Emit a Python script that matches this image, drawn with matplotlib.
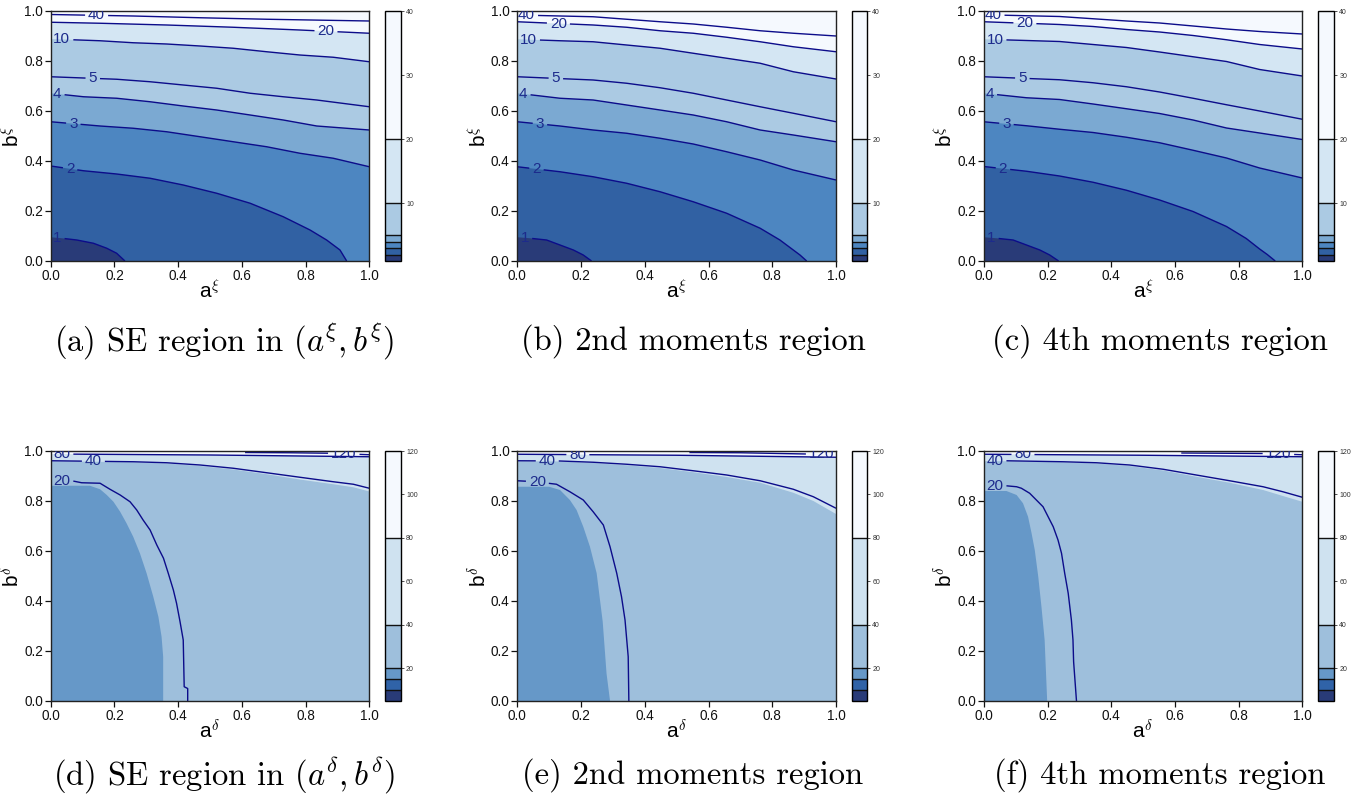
import numpy as np
import matplotlib
matplotlib.use('Agg')
import matplotlib.pyplot as plt
from matplotlib.contour import ContourSet
from matplotlib.colors import ListedColormap, BoundaryNorm
from matplotlib.cm import ScalarMappable

plt.rcParams['font.family'] = ['Liberation Sans', 'DejaVu Sans']
plt.rcParams['mathtext.fontset'] = 'cm'

# ---------------- data: contour curves (a values, b values) ----------------
# Panel (a): SE region in (a^xi, b^xi)
pa_1 = ([0, 0.035, 0.082, 0.134, 0.176, 0.207, 0.233], [0.095, 0.091, 0.084, 0.071, 0.051, 0.031, 0.0])
pa_2 = ([0, 0.103, 0.207, 0.312, 0.416, 0.521, 0.626, 0.73, 0.814, 0.866, 0.908, 0.929],
        [0.38, 0.361, 0.348, 0.331, 0.304, 0.271, 0.231, 0.177, 0.124, 0.084, 0.044, 0.0])
pa_3 = ([0, 0.155, 0.259, 0.364, 0.469, 0.573, 0.678, 0.782, 0.887, 1.0],
        [0.557, 0.54, 0.531, 0.517, 0.497, 0.477, 0.457, 0.431, 0.411, 0.377])
pa_4 = ([0, 0.103, 0.207, 0.312, 0.416, 0.521, 0.626, 0.73, 0.835, 1.0],
        [0.671, 0.657, 0.651, 0.637, 0.62, 0.604, 0.584, 0.564, 0.54, 0.524])
pa_5 = ([0, 0.207, 0.312, 0.416, 0.521, 0.626, 0.73, 0.835, 1.0],
        [0.737, 0.727, 0.717, 0.704, 0.691, 0.671, 0.657, 0.644, 0.617])
pa_10 = ([0, 0.155, 0.259, 0.364, 0.469, 0.573, 0.678, 0.782, 0.887, 1.0],
         [0.888, 0.881, 0.873, 0.868, 0.86, 0.851, 0.837, 0.824, 0.815, 0.797])
pa_20 = ([0, 0.155, 0.364, 0.573, 0.782, 1.0], [0.955, 0.951, 0.944, 0.935, 0.924, 0.911])
pa_40 = ([0, 0.259, 0.469, 0.678, 1.0], [0.986, 0.98, 0.973, 0.967, 0.96])

# Panel (b): 2nd moments region (xi)
pb_1 = ([0, 0.04, 0.092, 0.134, 0.176, 0.207, 0.233], [0.095, 0.091, 0.084, 0.064, 0.044, 0.024, 0.0])
pb_2 = ([0, 0.134, 0.238, 0.343, 0.448, 0.552, 0.657, 0.762, 0.824, 0.866, 0.887, 0.908],
        [0.377, 0.357, 0.337, 0.311, 0.277, 0.237, 0.191, 0.131, 0.084, 0.044, 0.024, 0.0])
pb_3 = ([0, 0.134, 0.238, 0.343, 0.448, 0.552, 0.657, 0.762, 0.866, 1.0],
        [0.557, 0.54, 0.524, 0.511, 0.491, 0.468, 0.437, 0.404, 0.364, 0.324])
pb_4 = ([0, 0.134, 0.238, 0.343, 0.448, 0.552, 0.657, 0.762, 0.866, 1.0],
        [0.671, 0.651, 0.644, 0.624, 0.604, 0.584, 0.557, 0.524, 0.504, 0.477])
pb_5 = ([0, 0.238, 0.343, 0.448, 0.552, 0.657, 0.762, 0.866, 1.0],
        [0.737, 0.724, 0.711, 0.693, 0.671, 0.644, 0.617, 0.591, 0.557])
pb_10 = ([0, 0.134, 0.238, 0.343, 0.448, 0.552, 0.657, 0.762, 0.866, 1.0],
         [0.887, 0.881, 0.877, 0.864, 0.851, 0.831, 0.811, 0.791, 0.757, 0.728])
pb_20 = ([0, 0.238, 0.343, 0.448, 0.552, 0.657, 0.762, 0.866, 1.0],
         [0.957, 0.944, 0.935, 0.921, 0.911, 0.895, 0.877, 0.857, 0.837])
pb_40 = ([0, 0.238, 0.343, 0.448, 0.552, 0.657, 0.762, 0.866, 1.0],
         [0.984, 0.977, 0.967, 0.957, 0.948, 0.935, 0.921, 0.911, 0.9])

# Panel (c): 4th moments region (xi)
pc_1 = ([0, 0.04, 0.092, 0.134, 0.176, 0.207, 0.235], [0.095, 0.091, 0.084, 0.064, 0.044, 0.024, 0.0])
pc_2 = ([0, 0.134, 0.238, 0.343, 0.448, 0.552, 0.657, 0.762, 0.824, 0.866, 0.89, 0.915],
        [0.378, 0.359, 0.34, 0.315, 0.283, 0.244, 0.198, 0.138, 0.09, 0.048, 0.026, 0.0])
pc_3 = ([0, 0.134, 0.238, 0.343, 0.448, 0.552, 0.657, 0.762, 0.866, 1.0],
        [0.557, 0.541, 0.527, 0.514, 0.495, 0.473, 0.443, 0.412, 0.372, 0.332])
pc_4 = ([0, 0.134, 0.238, 0.343, 0.448, 0.552, 0.657, 0.762, 0.866, 1.0],
        [0.671, 0.653, 0.646, 0.628, 0.609, 0.59, 0.564, 0.532, 0.512, 0.486])
pc_5 = ([0, 0.238, 0.343, 0.448, 0.552, 0.657, 0.762, 0.866, 1.0],
        [0.737, 0.725, 0.713, 0.697, 0.676, 0.651, 0.625, 0.6, 0.567])
pc_10 = ([0, 0.134, 0.238, 0.343, 0.448, 0.552, 0.657, 0.762, 0.866, 1.0],
         [0.887, 0.882, 0.878, 0.866, 0.854, 0.836, 0.817, 0.798, 0.766, 0.74])
pc_20 = ([0, 0.238, 0.343, 0.448, 0.552, 0.657, 0.762, 0.866, 1.0],
         [0.957, 0.946, 0.938, 0.926, 0.916, 0.902, 0.885, 0.866, 0.848])
pc_40 = ([0, 0.238, 0.343, 0.448, 0.552, 0.657, 0.762, 0.866, 1.0],
         [0.985, 0.978, 0.969, 0.96, 0.952, 0.94, 0.928, 0.918, 0.908])

# Panel (d): SE region in (a^delta, b^delta)
pd_20 = ([0, 0.066, 0.097, 0.155, 0.186, 0.218, 0.249, 0.27, 0.29, 0.312, 0.333, 0.354, 0.369,
          0.385, 0.395, 0.406, 0.416, 0.419, 0.43, 0.43],
         [0.879, 0.881, 0.873, 0.871, 0.847, 0.824, 0.797, 0.764, 0.724, 0.684, 0.624, 0.571, 0.511,
          0.444, 0.391, 0.317, 0.244, 0.057, 0.05, 0.0])
pd_f20 = ([0, 0.123, 0.155, 0.176, 0.197, 0.218, 0.238, 0.259, 0.28, 0.301, 0.322, 0.338, 0.348, 0.353, 0.353],
          [0.861, 0.861, 0.847, 0.824, 0.797, 0.757, 0.711, 0.657, 0.591, 0.511, 0.417, 0.337, 0.257, 0.177, 0.0])
pd_40 = ([0, 0.26, 0.364, 0.469, 0.573, 0.678, 0.782, 0.887, 0.95, 1.0],
         [0.961, 0.957, 0.953, 0.944, 0.931, 0.913, 0.895, 0.877, 0.867, 0.851])
pd_f40 = ([0, 0.26, 0.364, 0.469, 0.573, 0.678, 0.782, 0.887, 0.95, 1.0],
          [0.959, 0.955, 0.95, 0.94, 0.926, 0.907, 0.886, 0.867, 0.855, 0.838])
pd_80 = ([0, 0.5, 1.0], [0.988, 0.984, 0.977])
pd_120 = ([0.61, 0.75, 0.88, 1.0], [0.994, 0.993, 0.991, 0.985])

# Panel (e): 2nd moments region (delta)
pe_20 = ([0, 0.03, 0.097, 0.123, 0.165, 0.207, 0.238, 0.27, 0.291, 0.312, 0.327, 0.338, 0.348, 0.35],
         [0.881, 0.879, 0.871, 0.867, 0.837, 0.804, 0.757, 0.704, 0.617, 0.511, 0.417, 0.324, 0.177, 0.0])
pe_f20 = ([0, 0.1, 0.134, 0.165, 0.186, 0.207, 0.228, 0.249, 0.268, 0.28, 0.291],
          [0.857, 0.857, 0.844, 0.804, 0.764, 0.697, 0.617, 0.511, 0.317, 0.11, 0.0])
pe_40 = ([0, 0.134, 0.238, 0.343, 0.448, 0.552, 0.657, 0.762, 0.866, 0.929, 1.0],
         [0.961, 0.96, 0.955, 0.947, 0.937, 0.921, 0.904, 0.881, 0.847, 0.817, 0.771])
pe_f40 = ([0, 0.134, 0.238, 0.343, 0.448, 0.552, 0.657, 0.762, 0.866, 0.929, 1.0],
          [0.959, 0.958, 0.952, 0.943, 0.932, 0.915, 0.896, 0.873, 0.833, 0.8, 0.748])
pe_80 = ([0, 0.5, 1.0], [0.987, 0.983, 0.975])
pe_120 = ([0.54, 0.7, 0.908, 1.0], [0.994, 0.993, 0.988, 0.986])

# Panel (f): 4th moments region (delta)
pf_20 = ([0, 0.069, 0.103, 0.118, 0.144, 0.165, 0.186, 0.202, 0.218, 0.233, 0.244, 0.254, 0.265,
          0.275, 0.28, 0.282, 0.291],
         [0.861, 0.861, 0.857, 0.851, 0.831, 0.804, 0.777, 0.737, 0.697, 0.644, 0.591, 0.511, 0.431,
          0.324, 0.244, 0.157, 0.0])
pf_f20 = ([0, 0.071, 0.103, 0.123, 0.139, 0.15, 0.16, 0.171, 0.181, 0.191, 0.199],
          [0.84, 0.84, 0.824, 0.791, 0.737, 0.671, 0.604, 0.497, 0.377, 0.244, 0.0])
pf_40 = ([0, 0.066, 0.249, 0.354, 0.458, 0.563, 0.667, 0.772, 0.877, 0.939, 1.0],
         [0.961, 0.961, 0.957, 0.953, 0.944, 0.927, 0.904, 0.881, 0.857, 0.837, 0.815])
pf_f40 = ([0, 0.066, 0.249, 0.354, 0.458, 0.563, 0.667, 0.772, 0.877, 0.939, 1.0],
          [0.959, 0.959, 0.955, 0.95, 0.94, 0.922, 0.897, 0.873, 0.844, 0.82, 0.797])
pf_80 = ([0, 0.5, 1.0], [0.987, 0.983, 0.977])
pf_120 = ([0.62, 0.75, 0.877, 1.0], [0.992, 0.991, 0.99, 0.985])

# colour-key levels and tick labels
xi_key_bounds = [1, 2, 3, 4, 5, 10, 20, 40]
xi_key_ticks = [10, 20, 30, 40]
de_key_bounds = [5, 10, 15, 20, 40, 80, 120]
de_key_ticks = [20, 40, 60, 80, 100, 120]
axis_ticks = [0.0, 0.2, 0.4, 0.6, 0.8, 1.0]
captions = [r"(a) SE region in $(a^{\xi}, b^{\xi})$", "(b) 2nd moments region", "(c) 4th moments region",
            r"(d) SE region in $(a^{\delta}, b^{\delta})$", "(e) 2nd moments region", "(f) 4th moments region"]

# ---------------- styles ----------------
NAVY = '#293b78'
DBLUE = '#3161a3'
BLUE = '#4d86c1'
MED = '#7ba9d2'
LIGHT = '#abcae3'
LIGHTER = '#d4e6f3'
WHITE = '#f5f9fe'
D_DBLUE = '#3063a8'
D_MID = '#6698c8'
D_LIGHT = '#9ebfdc'
D_LIGHTER = '#cfe2f0'
LINE_C = '#0c0c8a'
LABEL_C = '#1d2b8c'

xi_key_colors = [NAVY, DBLUE, BLUE, MED, LIGHT, LIGHTER, WHITE]
de_key_colors = [NAVY, D_DBLUE, D_MID, D_LIGHT, D_LIGHTER, WHITE]

W, H = 1361, 802
fig = plt.figure(figsize=(W / 100, H / 100), dpi=100)


def rect(x0, y0, x1, y1):
    return [x0 / W, 1 - y1 / H, (x1 - x0) / W, (y1 - y0) / H]


cols = [(50.7, 369.3, 385.0, 400.5, 224), (517.3, 836.0, 851.7, 866.7, 693), (983.8, 1302.3, 1318.3, 1333.8, 1160)]
rows = [(11.0, 261.0, 341), (451.0, 701.0, 775)]

xi_panels = [
    dict(fills=[(pa_20, LIGHTER), (pa_10, LIGHT), (pa_4, MED), (pa_3, BLUE), (pa_2, DBLUE), (pa_1, NAVY)],
         lines={1: pa_1, 2: pa_2, 3: pa_3, 4: pa_4, 5: pa_5, 10: pa_10, 20: pa_20, 40: pa_40},
         labels={1: (0.021, 0.093), 2: (0.061, 0.37), 3: (0.071, 0.549), 4: (0.021, 0.669),
                 5: (0.132, 0.73), 10: (0.035, 0.887), 20: (0.864, 0.919), 40: (0.144, 0.982)}),
    dict(fills=[(pb_20, LIGHTER), (pb_10, LIGHT), (pb_4, MED), (pb_3, BLUE), (pb_2, DBLUE), (pb_1, NAVY)],
         lines={1: pb_1, 2: pb_2, 3: pb_3, 4: pb_4, 5: pb_5, 10: pb_10, 20: pb_20, 40: pb_40},
         labels={1: (0.024, 0.093), 2: (0.06, 0.367), 3: (0.071, 0.548), 4: (0.019, 0.668),
                 5: (0.121, 0.731), 10: (0.035, 0.886), 20: (0.129, 0.95), 40: (0.029, 0.983)}),
    dict(fills=[(pc_20, LIGHTER), (pc_10, LIGHT), (pc_4, MED), (pc_3, BLUE), (pc_2, DBLUE), (pc_1, NAVY)],
         lines={1: pc_1, 2: pc_2, 3: pc_3, 4: pc_4, 5: pc_5, 10: pc_10, 20: pc_20, 40: pc_40},
         labels={1: (0.024, 0.093), 2: (0.06, 0.368), 3: (0.071, 0.548), 4: (0.019, 0.668),
                 5: (0.121, 0.731), 10: (0.035, 0.886), 20: (0.129, 0.951), 40: (0.029, 0.984)}),
]
de_panels = [
    dict(fills=[(pd_80, D_LIGHTER), (pd_f40, D_LIGHT), (pd_f20, D_MID)],
         lines={20: pd_20, 40: pd_40, 80: pd_80, 120: pd_120},
         labels={20: (0.035, 0.879), 40: (0.134, 0.958), 80: (0.035, 0.988), 120: (0.92, 0.991)}),
    dict(fills=[(pe_80, D_LIGHTER), (pe_f40, D_LIGHT), (pe_f20, D_MID)],
         lines={20: pe_20, 40: pe_40, 80: pe_80, 120: pe_120},
         labels={20: (0.063, 0.875), 40: (0.094, 0.96), 80: (0.19, 0.985), 120: (0.955, 0.987)}),
    dict(fills=[(pf_80, D_LIGHTER), (pf_f40, D_LIGHT), (pf_f20, D_MID)],
         lines={20: pf_20, 40: pf_40, 80: pf_80, 120: pf_120},
         labels={20: (0.035, 0.861), 40: (0.035, 0.961), 80: (0.123, 0.985), 120: (0.925, 0.99)}),
]


def draw_panel(spec, col, row, sym, bounds, kcolors, kticks, caption):
    x0, x1, cx0, cx1, capx = col
    y0, y1, capy = row
    ax = fig.add_axes(rect(x0, y0, x1, y1))
    ax.set_facecolor(WHITE)
    for (ca, cb), c in spec['fills']:
        ax.fill(list(ca) + [ca[-1], 0], list(cb) + [0, 0], facecolor=c, edgecolor='none')
    levels = sorted(spec['lines'])
    allsegs = [[np.column_stack(spec['lines'][l])] for l in levels]
    cs = ContourSet(ax, levels, allsegs, colors=LINE_C, linewidths=1.0)
    ax.set_xlim(0, 1)
    ax.set_ylim(0, 1)
    texts = ax.clabel(cs, manual=[spec['labels'][l] for l in levels], inline=True, inline_spacing=3,
                      fmt='%d', fontsize=11, colors=LABEL_C)
    for t in texts:
        t.set_rotation(0)
    ax.set_xticks(axis_ticks)
    ax.set_yticks(axis_ticks)
    ax.set_xticklabels([f'{v:.1f}' for v in axis_ticks])
    ax.set_yticklabels([f'{v:.1f}' for v in axis_ticks])
    ax.tick_params(direction='out', length=4, width=0.9, labelsize=9.8, pad=1.5, colors='#111111')
    for s in ax.spines.values():
        s.set_linewidth(1.0)
        s.set_color('#222222')
    ax.set_xlabel('a$^{' + sym + '}$', fontsize=15, labelpad=-3)
    ax.set_ylabel('b$^{' + sym + '}$', fontsize=15, labelpad=0)

    cax = fig.add_axes(rect(cx0, y0, cx1, y1))
    cmap = ListedColormap(kcolors)
    norm = BoundaryNorm(bounds, cmap.N)
    cbar = fig.colorbar(ScalarMappable(norm=norm, cmap=cmap), cax=cax, drawedges=True,
                        spacing='proportional', ticks=kticks)
    cbar.minorticks_off()
    cbar.ax.set_yticklabels([str(t) for t in kticks])
    cbar.ax.tick_params(labelsize=5, length=2.5, width=0.6, pad=1.5, colors='#333333')
    cbar.outline.set_linewidth(1.0)
    cbar.dividers.set_linewidth(1.0)
    cbar.dividers.set_color('#111111')

    fig.text(capx / W, 1 - capy / H, caption, ha='center', va='center', fontsize=23.5, family='cmr10')


for i in range(3):
    draw_panel(xi_panels[i], cols[i], rows[0], r'\xi', xi_key_bounds, xi_key_colors, xi_key_ticks, captions[i])
for i in range(3):
    draw_panel(de_panels[i], cols[i], rows[1], r'\delta', de_key_bounds, de_key_colors, de_key_ticks, captions[3 + i])

fig.savefig('out.png', dpi=100)
